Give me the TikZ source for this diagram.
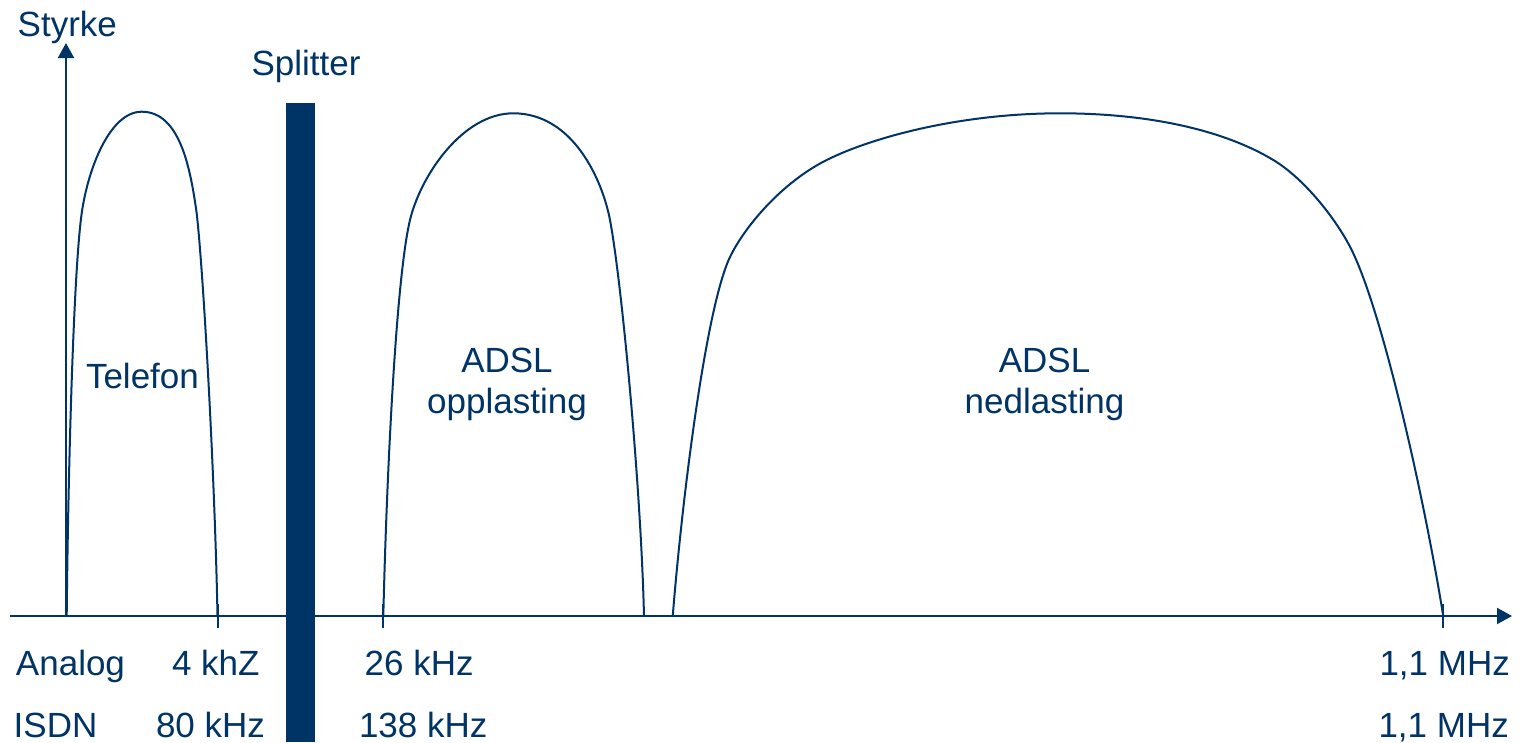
\documentclass[tikz,border=0pt]{standalone}
\usepackage{fontspec}
\setmainfont{Liberation Sans}
\usetikzlibrary{arrows.meta}
\definecolor{navy}{RGB}{0,51,102}
\begin{document}
\begin{tikzpicture}[x=1pt,y=-1pt,
  lbl/.style={inner sep=0pt, outer sep=0pt, text=navy, font=\fontsize{35}{41}\selectfont},
  curve/.style={draw=navy, line width=2pt, line join=round},
  axisline/.style={draw=navy, line width=2pt},
  tick/.style={draw=navy, line width=2pt},
  bar/.style={fill=navy, draw=none, inner sep=0pt, outer sep=0pt},
  arrowtip/.style={-{Triangle[length=15pt,width=16pt]}}
]
\useasboundingbox (0,0) rectangle (1521,742);

% axes
\coordinate (origin) at (66,617);
\coordinate (ytip) at (66,43);
\coordinate (xstart) at (10,616);
\coordinate (xtip) at (1512,616);
\draw[axisline,arrowtip] (origin) -- (ytip);
\draw[axisline,arrowtip] (xstart) -- (xtip);

% ticks
\coordinate (t1a) at (218,604); \coordinate (t1b) at (218,628);
\coordinate (t2a) at (383,604); \coordinate (t2b) at (383,628);
\coordinate (t3a) at (1443,604); \coordinate (t3b) at (1443,628);
\draw[tick] (t1a) -- (t1b);
\draw[tick] (t2a) -- (t2b);
\draw[tick] (t3a) -- (t3b);

% splitter bar
\node[bar, minimum width=29pt, minimum height=639pt, anchor=north west] (splitbar) at (286,103) {};

% Telefon curve
\draw[curve] (66.7,616.5) .. controls (68,480) and (73.3,273) .. (81.7,213.3)
  .. controls (88,168.3) and (110,111.7) .. (141.7,111.7)
  .. controls (180,111.7) and (190.4,168.3) .. (196.7,213.3)
  .. controls (203.5,273.3) and (215,480) .. (217.5,616.5);

% ADSL opplasting curve
\draw[curve] (383.3,616.5) .. controls (386.3,486.5) and (395.6,280) .. (410,220)
  .. controls (420.8,175) and (463,113.3) .. (513.3,113.3)
  .. controls (573,113.3) and (602.4,180) .. (610,220)
  .. controls (621.4,280) and (641,486.5) .. (644,616.5);

% ADSL nedlasting curve
\draw[curve] (672.7,616.5) .. controls (682.3,496.5) and (706,307) .. (730,257)
  .. controls (744.4,227) and (781.7,182.5) .. (826.7,160)
  .. controls (871.7,137.5) and (960,113.3) .. (1060,113.3)
  .. controls (1140,113.3) and (1218.3,127) .. (1273.3,160)
  .. controls (1303.3,178) and (1334.3,216.7) .. (1350,246.7)
  .. controls (1381.4,306.7) and (1424.1,496.5) .. (1443.3,616.5);

% labels
\node[lbl, anchor=base west] (styrke) at (17.7,36) {Styrke};
\node[lbl, anchor=base west] (splitter) at (251.6,75) {Splitter};
\node[lbl, anchor=base west] (telefon) at (86,388.3) {Telefon};
\node[lbl, align=center, anchor=center] (opp) at (507,384.1) {ADSL\\opplasting};
\node[lbl, align=center, anchor=center] (ned) at (1044.5,384.4) {ADSL\\nedlasting};

\node[lbl, anchor=base west] (analog) at (16,675) {Analog};
\node[lbl, anchor=base west] (isdn) at (13.7,737.5) {ISDN};
\node[lbl, anchor=base west] (f4) at (172,675) {4 khZ};
\node[lbl, anchor=base west] (f80) at (156,737.5) {80 kHz};
\node[lbl, anchor=base west] (f26) at (364.7,675) {26 kHz};
\node[lbl, anchor=base west] (f138) at (359,737.5) {138 kHz};
\node[lbl, anchor=base west] (m1) at (1379.5,675) {1,1 MHz};
\node[lbl, anchor=base west] (m2) at (1378.5,737.5) {1,1 MHz};
\end{tikzpicture}
\end{document}
